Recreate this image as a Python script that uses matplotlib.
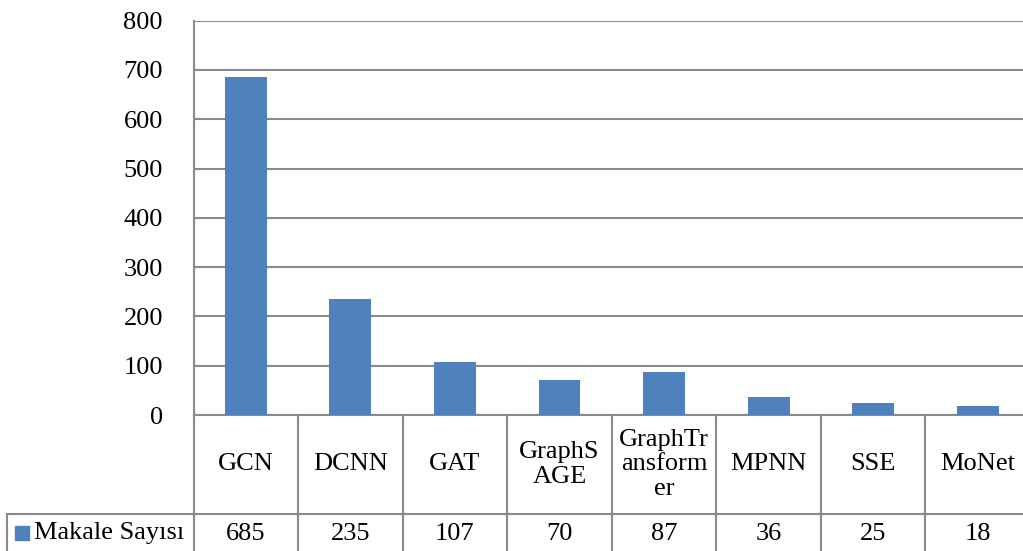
import matplotlib
matplotlib.use("Agg")
import matplotlib.pyplot as plt
from matplotlib.lines import Line2D
from matplotlib.patches import Rectangle

categories = ["GCN", "DCNN", "GAT", "GraphS\nAGE", "GraphTr\nansform\ner", "MPNN", "SSE", "MoNet"]
values = [685, 235, 107, 70, 87, 36, 25, 18]
series_name = "Makale Sayısı"
yticks = [0, 100, 200, 300, 400, 500, 600, 700, 800]

W, H = 1023, 551
fig = plt.figure(figsize=(W / 100, H / 100), dpi=100)
plt.rcParams['font.family'] = ['Liberation Serif', 'DejaVu Serif']
FS = 19
GRAY = '#8a8a8a'
BAR = '#4F81BD'
LW = 1.5

left_px, right_px, top_px, base_px = 193.5, 1030, 20.7, 415
ax = fig.add_axes([left_px / W, (H - base_px) / H, (right_px - left_px) / W, (base_px - top_px) / H])
n = len(categories)
ax.bar(range(n), values, width=0.4, color=BAR, zorder=3)
ax.set_xlim(-0.5, n - 0.5)
ax.set_ylim(0, 800)
ax.set_yticks(yticks)
ax.set_yticklabels([str(t) for t in yticks], fontsize=FS)
ax.tick_params(axis='y', length=0, pad=22)
ax.set_xticks([])
for s in ['top', 'right', 'bottom']:
    ax.spines[s].set_visible(False)
ax.spines['left'].set_color(GRAY)
ax.spines['left'].set_linewidth(LW)
ax.yaxis.grid(True, color=GRAY, linewidth=LW, zorder=0)
ax.set_axisbelow(True)

axh = base_px - top_px
axw = right_px - left_px
def ay(py):
    return (base_px - py) / axh
def axx(px):
    return (px - left_px) / axw

row1_bottom = 514
row2_bottom = 554
kw = dict(color=GRAY, linewidth=LW, transform=ax.transAxes, clip_on=False)
ax.add_line(Line2D([0, 1], [0, 0], **kw))
for i in range(n + 1):
    x = i / n
    ax.add_line(Line2D([x, x], [0, ay(row2_bottom)], **kw))
ax.add_line(Line2D([axx(7), 1], [ay(row1_bottom), ay(row1_bottom)], **kw))
ax.add_line(Line2D([axx(7), 1], [ay(row2_bottom), ay(row2_bottom)], **kw))
ax.add_line(Line2D([axx(7), axx(7)], [ay(row1_bottom), ay(row2_bottom)], **kw))

for i, c in enumerate(categories):
    ax.text((i + 0.5) / n, ay((base_px + row1_bottom) / 2), c, transform=ax.transAxes,
            ha='center', va='center', fontsize=FS, linespacing=1.15, clip_on=False)
for i, v in enumerate(values):
    ax.text((i + 0.5) / n, ay(533.5), str(v), transform=ax.transAxes,
            ha='center', va='center', fontsize=FS, clip_on=False)

ax.add_patch(Rectangle((axx(15), ay(540)), 14 / axw, 14 / axh, transform=ax.transAxes,
                       color=BAR, clip_on=False))
ax.text(axx(34.5), ay(533.5), series_name, transform=ax.transAxes, ha='left', va='center',
        fontsize=FS, clip_on=False)

fig.savefig("out.png", dpi=100)
